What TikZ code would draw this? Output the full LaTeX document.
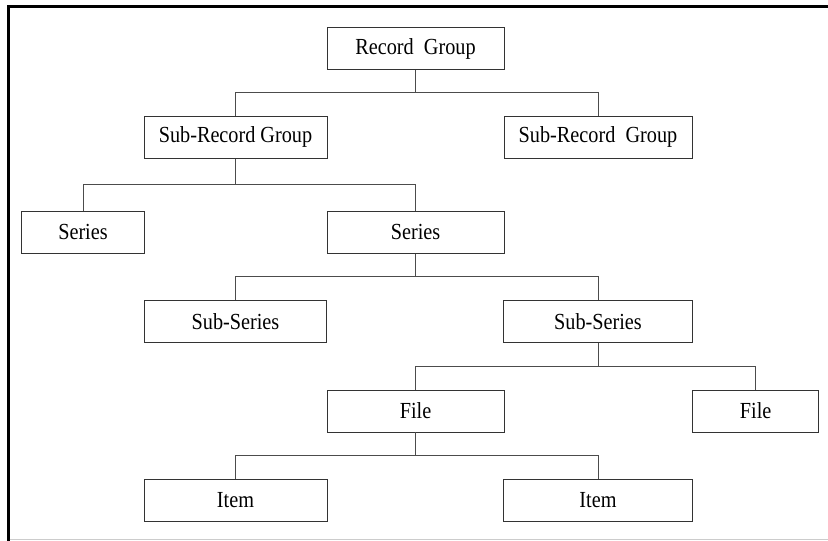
\documentclass[tikz,border=0pt]{standalone}
\usepackage{fontspec}
\setmainfont{Liberation Serif}[FakeStretch=0.88]
\usepackage{tikz}
\usetikzlibrary{positioning,calc}

\begin{document}
\begin{tikzpicture}[x=1pt, y=1pt,
    box/.style={draw=black!80, rectangle, line width=0.9pt, inner sep=0pt,
      minimum height=42pt, minimum width=#1,
      font=\fontsize{23}{26}\selectfont},
    link/.style={draw=black!70, line width=0.9pt}]
    \useasboundingbox (0,0) rectangle (828,-541);
    % Frame
    \draw [line width=3pt] (8,-541) -- (8,-6.5) -- (828,-6.5);
    \draw [black!20, line width=1pt] (9.5,-539.5) -- (828,-539.5);
    % Nodes
    \node [box=177pt] (rg) at (415.5,-48.5) {Record\ \ Group};
    \node [box=183pt] (srga) at (235.5,-137.3) {Sub-Record Group};
    \node [box=188pt] (srgb) at (598,-137.3) {Sub-Record\ \ Group};
    \node [box=122.5pt] (sera) at (83,-232.2) {Series};
    \node [box=177pt] (serb) at (415.5,-232.2) {Series};
    \node [box=182.5pt] (subsa) at (235.5,-321.3) {Sub-Series};
    \node [box=188.5pt] (subsb) at (598,-321.3) {Sub-Series};
    \node [box=177pt] (filea) at (415.5,-411) {File};
    \node [box=126pt] (fileb) at (755.7,-411) {File};
    \node [box=183pt] (itema) at (235.5,-500.3) {Item};
    \node [box=189pt] (itemb) at (598,-500.3) {Item};
    % Links
    \draw [link] (rg.south) |- ($(rg.south)!.5!(srga.north)$) -| (srga.north);
    \draw [link] (rg.south) |- ($(rg.south)!.5!(srgb.north)$) -| (srgb.north);
    \draw [link] (srga.south) |- ($(srga.south)!.5!(sera.north)$) -| (sera.north);
    \draw [link] (srga.south) |- ($(srga.south)!.5!(serb.north)$) -| (serb.north);
    \draw [link] (serb.south) |- ($(serb.south)!.5!(subsa.north)$) -| (subsa.north);
    \draw [link] (serb.south) |- ($(serb.south)!.5!(subsb.north)$) -| (subsb.north);
    \draw [link] (subsb.south) |- ($(subsb.south)!.5!(filea.north)$) -| (filea.north);
    \draw [link] (subsb.south) |- ($(subsb.south)!.5!(fileb.north)$) -| (fileb.north);
    \draw [link] (filea.south) |- ($(filea.south)!.5!(itema.north)$) -| (itema.north);
    \draw [link] (filea.south) |- ($(filea.south)!.5!(itemb.north)$) -| (itemb.north);
\end{tikzpicture}
\end{document}
